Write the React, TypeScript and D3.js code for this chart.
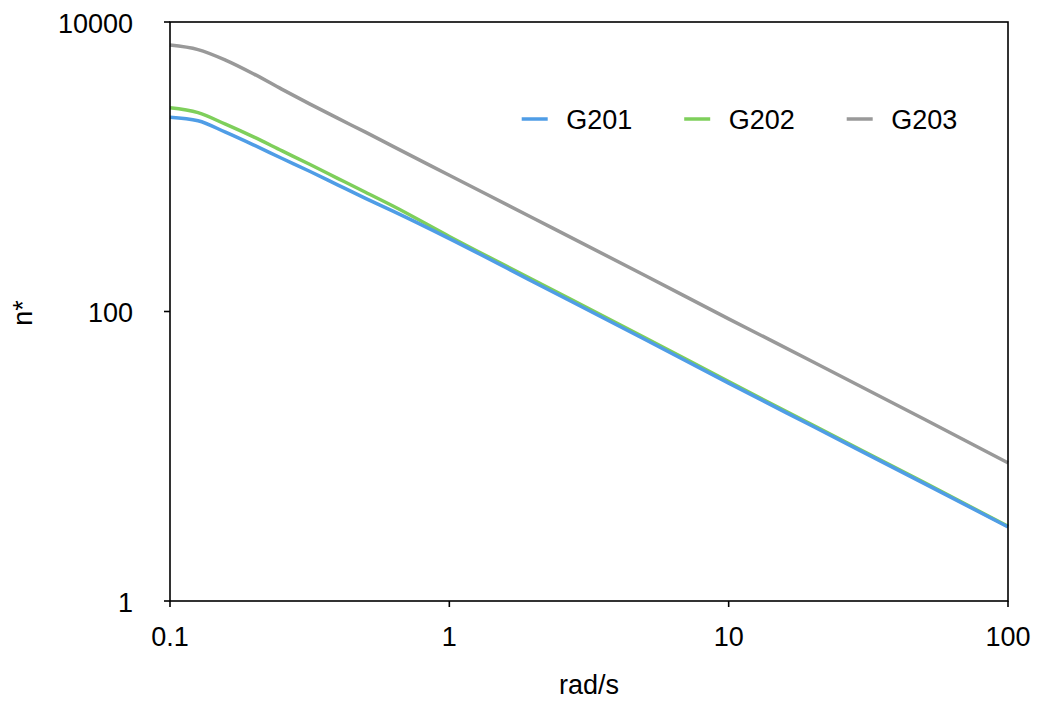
import React from "react";
import * as d3 from "d3";

const frequencies = [0.1, 0.126, 0.158, 0.2, 0.251, 0.316, 0.398, 0.501, 0.631, 1, 2, 5, 10, 20, 50, 100];
const g201 = [2200, 2080, 1733, 1409, 1145, 931, 750, 605, 492, 319, 160, 64.3, 32, 16.1, 6.5, 3.25];
const g202 = [2553, 2364, 1968, 1600, 1291, 1040, 832, 666, 533, 330, 165, 66, 32.8, 16.4, 6.6, 3.28];
const g203 = [6930, 6450, 5458, 4365, 3438, 2720, 2166, 1733, 1377, 874, 441, 178, 89, 45, 18.1, 9.0];
const seriesNames = ["G201", "G202", "G203"];
const seriesColors = ["#4f9de6", "#7ecf5b", "#999999"];
const xTicks = [0.1, 1, 10, 100];
const yTicks = [1, 100, 10000];

const W = 1038;
const H = 702;
const left = 170, right = 1008, top = 22, bottom = 601;
const font = "'Liberation Sans', Arial, Helvetica, sans-serif";
const fs = 27;

export default function App() {
  const x = d3.scaleLog().domain([0.1, 100]).range([left, right]);
  const y = d3.scaleLog().domain([1, 10000]).range([bottom, top]);
  const line = d3
    .line<[number, number]>()
    .x((d) => x(d[0]))
    .y((d) => y(d[1]))
    .curve(d3.curveMonotoneX);
  const allSeries = [g201, g202, g203];
  const drawOrder = [2, 1, 0];

  return (
    <svg width={W} height={H} style={{ position: "absolute", left: 0, top: 0 }} fontFamily={font}>
      <rect x={0} y={0} width={W} height={H} fill="#ffffff" />
      {drawOrder.map((i) => (
        <path
          key={seriesNames[i]}
          d={line(frequencies.map((f, k) => [f, allSeries[i][k]] as [number, number])) || ""}
          fill="none"
          stroke={seriesColors[i]}
          strokeWidth={3.5}
          strokeLinejoin="round"
        />
      ))}
      <rect x={left} y={top} width={right - left} height={bottom - top} fill="none" stroke="#000" strokeWidth={1.6} />
      {yTicks.map((t) => (
        <g key={"y" + t}>
          <line x1={left - 6} x2={left} y1={y(t)} y2={y(t)} stroke="#000" strokeWidth={1.6} />
          <text x={133} y={y(t) + 1.5} textAnchor="end" dominantBaseline="central" fontSize={fs} fill="#000">
            {t}
          </text>
        </g>
      ))}
      {xTicks.map((t) => (
        <g key={"x" + t}>
          <line x1={x(t)} x2={x(t)} y1={bottom} y2={bottom + 6} stroke="#000" strokeWidth={1.6} />
          <text x={x(t)} y={646} textAnchor="middle" fontSize={fs} fill="#000">
            {t}
          </text>
        </g>
      ))}
      <text x={(left + right) / 2} y={694} textAnchor="middle" fontSize={fs} fill="#000">
        rad/s
      </text>
      <text transform="translate(32,313) rotate(-90)" textAnchor="middle" fontSize={fs} fill="#000">
        n*
      </text>
      {seriesNames.map((name, i) => (
        <g key={"leg" + name} transform={`translate(${521.7 + i * 162.5},0)`}>
          <line x1={0} x2={26} y1={119} y2={119} stroke={seriesColors[i]} strokeWidth={3.5} />
          <text x={44.5} y={129} fontSize={fs} fill="#000">
            {name}
          </text>
        </g>
      ))}
    </svg>
  );
}
